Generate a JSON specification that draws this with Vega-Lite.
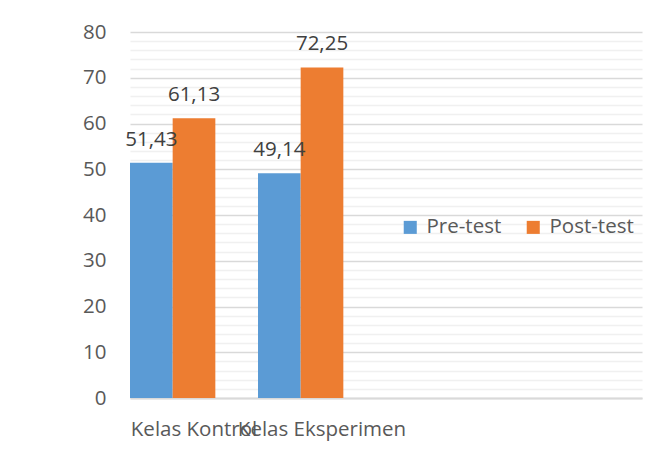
{
  "$schema": "https://vega.github.io/schema/vega-lite/v6.json",
  "width": 512,
  "height": 366,
  "autosize": "none",
  "padding": {"left": 130, "top": 32, "right": 25, "bottom": 52},
  "background": "white",
  "config": {
    "view": {"stroke": null},
    "font": "Open Sans",
    "locale": {"number": {"decimal": ",", "thousands": ".", "grouping": [3], "currency": ["", ""]}}
  },
  "data": {
    "values": [
      {"kelas": "Kelas Kontrol", "tes": "Pre-test", "nilai": 51.43},
      {"kelas": "Kelas Kontrol", "tes": "Post-test", "nilai": 61.13},
      {"kelas": "Kelas Eksperimen", "tes": "Pre-test", "nilai": 49.14},
      {"kelas": "Kelas Eksperimen", "tes": "Post-test", "nilai": 72.25}
    ]
  },
  "encoding": {
    "x": {
      "field": "kelas",
      "type": "nominal",
      "sort": null,
      "scale": {"domain": ["Kelas Kontrol", "Kelas Eksperimen", "c3", "c4"], "paddingInner": 0, "paddingOuter": 0},
      "axis": {
        "title": null,
        "labelAngle": 0,
        "labelExpr": "datum.value == 'c3' || datum.value == 'c4' ? '' : datum.label",
        "labelOverlap": false,
        "labelLimit": 0,
        "labelFontSize": 20.5,
        "labelColor": "#595959",
        "labelPadding": 21,
        "ticks": false,
        "domain": true,
        "domainColor": "#d9d9d9",
        "domainWidth": 2
      }
    },
    "xOffset": {
      "field": "tes",
      "type": "nominal",
      "scale": {"domain": ["Pre-test", "Post-test", "z"], "paddingInner": 0, "paddingOuter": 0}
    },
    "y": {
      "field": "nilai",
      "type": "quantitative",
      "scale": {"domain": [0, 80], "nice": false},
      "axis": {
        "title": null,
        "values": [0,2,4,6,8,10,12,14,16,18,20,22,24,26,28,30,32,34,36,38,40,42,44,46,48,50,52,54,56,58,60,62,64,66,68,70,72,74,76,78,80],
        "labelExpr": "datum.value % 10 === 0 ? format(datum.value, 'd') : ''",
        "labelFontSize": 20.5,
        "labelColor": "#595959",
        "labelPadding": 24,
        "ticks": false,
        "domain": false,
        "grid": true,
        "gridColor": {"condition": {"test": "datum.value % 10 === 0", "value": "#d9d9d9"}, "value": "#f0f0f0"},
        "gridWidth": 1.5
      }
    }
  },
  "layer": [
    {
      "mark": {"type": "bar"},
      "encoding": {
        "color": {
          "field": "tes",
          "type": "nominal",
          "scale": {"domain": ["Pre-test", "Post-test"], "range": ["#5B9BD5", "#ED7D31"]},
          "legend": {
            "title": null,
            "orient": "none",
            "direction": "horizontal",
            "legendX": 270,
            "legendY": 185,
            "symbolType": "square",
            "symbolSize": 170,
            "symbolStrokeWidth": 0,
            "labelFontSize": 20.5,
            "labelColor": "#595959",
            "labelOffset": 6,
            "columnPadding": 21,
            "padding": 0
          }
        }
      }
    },
    {
      "mark": {"type": "text", "fontSize": 20.5, "color": "#404040", "baseline": "alphabetic", "dy": -17},
      "encoding": {
        "text": {"field": "nilai", "type": "quantitative", "format": ".2f"}
      }
    }
  ]
}
